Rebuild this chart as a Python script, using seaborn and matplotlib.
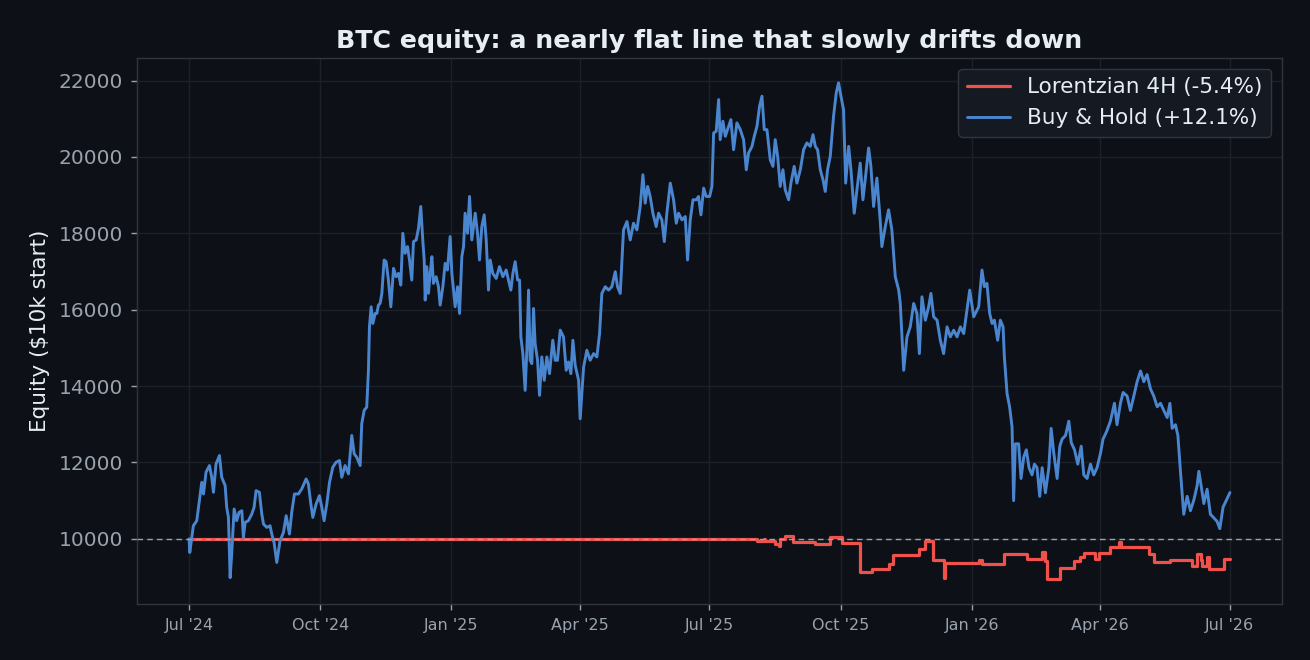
import numpy as np
import pandas as pd
import seaborn as sns
import matplotlib
matplotlib.use("Agg")
import matplotlib.pyplot as plt
import matplotlib.dates as mdates

# days since 2024-07-01 and equity in $
start = pd.Timestamp("2024-07-01")

bh_days = [
    0, 0.5, 3.0, 5.4, 7.2, 8.9, 10.1, 11.9, 14.3, 15.9, 17.1, 18.9, 21.3, 22.9, 25.3, 26.4, 27.6, 28.8,
    29.9, 31.6, 33.4, 35.1, 37.0, 38.1, 39.3, 41.6, 44.0, 45.6, 47.0, 49.3, 51.0, 52.2, 54.5, 56.8,
    58.0, 59.6, 61.5, 63.8, 66.2, 68.1, 70.4, 72.0, 73.9, 76.7, 79.0, 82.1, 83.7, 85.4, 86.8, 89.1,
    91.4, 93.1, 94.7, 96.6, 98.5, 100.8, 103.1, 105.5, 107.1, 109.4, 111.8, 114.1, 115.8, 117.6,
    120.0, 121.1, 122.8, 124.6, 125.8, 126.5, 127.7, 128.9, 130.5, 131.7, 132.8, 134.0, 135.2,
    136.8, 138.2, 139.8, 141.5, 143.4, 145.2, 146.9, 148.5, 149.9, 151.5, 153.2, 154.6, 156.2,
    157.4, 159.3, 160.9, 162.5, 163.9, 164.9, 165.6, 166.7, 167.9, 169.1, 170.3, 171.4, 173.3,
    174.9, 176.1, 178.0, 179.6, 181.2, 183.1, 184.3, 185.5, 186.6, 188.3, 189.7, 191.3, 192.5,
    193.6, 195.3, 196.7, 198.3, 200.7, 202.3, 203.7, 205.3, 207.0, 208.4, 210.0, 211.2, 213.0,
    215.4, 217.7, 220.1, 222.4, 224.0, 225.7, 227.1, 228.7, 230.4, 231.8, 232.7, 234.1, 235.7,
    236.9, 238.1, 239.2, 240.4, 241.6, 242.7, 244.4, 245.8, 247.4, 249.1, 250.9, 252.8, 255.1,
    256.8, 258.4, 260.3, 262.6, 264.5, 266.1, 267.8, 269.2, 270.8, 273.2, 274.3,
    276.7, 279.0, 281.3, 283.7, 286.0, 287.9, 289.5, 291.9, 294.2, 296.5, 298.9, 300.5, 302.4,
    304.7, 307.1, 309.4, 311.7, 314.1, 316.4, 318.3, 319.9, 321.6, 323.4, 325.3, 327.6, 329.3,
    331.6, 333.3, 335.1, 337.5, 339.8, 341.7, 343.3, 345.7, 348.0, 349.6, 351.5, 353.4, 355.7,
    357.3, 359.0, 360.9, 362.7, 365.1, 366.7, 367.9, 369.7, 371.4, 372.5, 374.4, 376.1, 378.4,
    380.0, 381.9, 384.2, 386.6, 388.9, 390.8, 392.4, 394.8, 396.4, 398.3, 400.1, 401.8, 403.4,
    405.3, 407.6, 409.5, 411.1, 412.8, 414.6, 416.5, 418.1, 420.5, 422.1, 424.4, 426.3, 428.7,
    431.0, 433.3, 435.7, 437.6, 439.2, 440.8, 442.7, 444.6, 446.2, 447.8, 449.7, 452.0, 453.9,
    455.5, 457.2, 459.0, 460.5, 462.6, 464.2, 466.5, 468.4, 470.7, 472.6, 474.2, 476.6, 478.2,
    480.1, 482.4, 484.7, 485.9, 488.3, 490.6, 492.9, 495.3, 497.7, 498.8, 501.2, 503.5, 505.8,
    508.2, 510.5, 512.2, 514.0, 516.4, 518.7, 520.3, 522.2, 524.6, 526.9, 529.2, 531.6, 533.9,
    536.3, 538.6, 541.0, 543.3, 545.6, 547.5, 550.3, 553.8, 556.1, 557.8, 559.6, 561.5, 563.2,
    564.8, 567.1, 569.0, 570.9, 571.8, 573.7, 575.5, 577.2, 578.3, 579.5, 581.8,
    583.5, 585.4, 587.2, 589.1, 591.2, 592.9, 594.7, 596.6, 598.3, 600.6, 603.0, 604.6, 606.5,
    608.8, 610.7, 612.3, 614.7, 617.0, 618.7, 621.0, 623.3, 625.7, 627.5, 629.8, 632.2, 634.5,
    636.8, 639.2, 641.0, 643.4, 646.2, 649.0, 650.8, 653.2, 655.1, 657.9, 660.2, 662.6, 664.9,
    667.3, 669.6, 671.9, 674.3, 676.6, 679.0, 681.3, 683.6, 686.0, 687.9, 689.5, 691.8, 693.5,
    695.3, 697.6, 700.0, 702.3, 704.7, 707.0, 708.2, 709.8, 711.7, 714.0, 716.3, 718.7, 721.0,
    722.9, 725.2, 727.6, 730.0,
]
bh_equity = [
    10000, 9641, 10341, 10473, 10998, 11479, 11173, 11742, 11917, 11611, 11217, 11961, 12179, 11611,
    11392, 10823, 10560, 8980,
    9597, 10779, 10473, 10692, 10735, 10035, 10429, 10473, 10648, 10823, 11260, 11217, 10648, 10385,
    10298, 10341, 10123, 9904, 9380, 9947, 10166, 10604, 10123, 10692, 11173, 11173, 11304, 11567,
    11435, 10910, 10560, 10910, 11129, 10823, 10473, 10910, 11479, 11873, 12004, 12048, 11611,
    11917, 11698, 12705, 12223, 12136, 11917, 13011, 13361, 13449, 14412, 15549, 16074, 15637,
    15900, 15900, 16118, 16162, 16425, 17300, 17256, 16775, 16074, 17081, 16862, 16950, 16643,
    18000, 17475, 17650, 17300, 16775, 17781, 17825, 18132, 18701, 17825, 17300, 16250, 17125,
    16425, 16950, 17387, 16687, 16862, 16600, 16118, 16600, 17212, 17037, 17913, 16950, 16512,
    16074, 16600, 15900, 17387, 17650, 18525, 18000, 18963, 17825, 18525, 18000, 17300, 18175,
    18482, 17825, 16512, 17300, 16950, 16818, 17125, 16862, 17037, 16775, 16512, 16950, 17256,
    16775, 16775, 15287, 14849, 13886, 14937, 16512, 14674, 14587, 16031, 15112, 14674, 13755,
    14762, 14149, 14762, 14324, 15199, 14674, 14674, 15462, 15287, 14412, 14630, 14324, 15199,
    14543, 14149, 13142,
    14499, 14937, 14674, 14849, 14762, 15374, 16425, 16600, 16512, 16600, 16994, 16600, 16425,
    18088, 18307, 17825, 18263, 18088, 18701, 19532, 18788, 19226, 18963, 18525, 18175, 18525,
    18350, 17781, 18525, 19313, 18876, 18263, 18525, 18350, 18438, 17300, 18350, 18876, 18876,
    18963, 18482, 19182, 18963, 18963, 19226, 20626, 20670, 21501, 20451, 20933, 20539, 20801,
    20976, 20188, 20889, 20714, 20451, 19663, 20101, 20276, 20539, 20801, 21326, 21589, 20714,
    20714, 19926, 19751, 20451, 20013, 19226, 19663, 19138, 18876, 19313, 19751, 19313, 19663,
    20188, 20364, 20276, 20582, 20276, 20188, 19663, 19401, 19094, 19663, 20013, 21064, 21677,
    21939, 21589, 21239, 19313, 20276, 19663, 18525, 19138, 19838, 18876, 19401, 20232, 19751,
    18701, 19445, 18350, 17650, 18175, 18613, 18088, 16862, 16512, 16162, 14412, 15287, 15549,
    16162, 15900, 14849, 16337, 15724, 16074, 16425, 15812, 15724, 15199, 14849, 15549, 15287,
    15462, 15287, 15549, 15374, 15987, 16512, 15812, 16074, 17037, 16600, 16687, 15900, 15637,
    15724, 15199, 15724, 15549, 14762, 13799, 13449, 12923, 10998, 12486, 12486,
    11579, 12142, 12329, 11861, 11673, 11954, 11861, 11111, 11861, 11205, 11861, 12891, 12235,
    11579, 12424, 12610, 12705, 13080, 12518, 12329, 11954, 12424, 11673, 11579, 11954, 11673,
    11861, 12235, 12610, 12799, 13080, 13548, 12986, 13548, 13831, 13737, 13361, 13737, 14112,
    14393, 14112, 14299, 13923, 13737, 13456, 13548, 13361, 13175, 13548, 12891, 12986, 12705,
    11767, 10641, 11111, 10735, 11016, 11392, 11767, 11392, 10922, 11297, 10641, 10548, 10454,
    10265, 10829, 11016, 11210,
]

# strategy equity only changes when a trade closes (step line)
lz_days = [
    0, 398.3, 403.0, 404.2, 411.2, 413.5, 414.7, 418.2, 423.5, 439.2, 449.3, 457.9, 470.8, 479.0,
    490.6, 493.7, 511.7, 516.4, 521.8, 529.3, 530.4, 553.8, 556.2, 571.3, 587.7, 598.5, 600.6,
    601.7, 611.1, 620.4, 625.1, 627.4, 635.6, 638.0, 646.2, 652.0, 653.7, 673.0, 676.6, 688.3,
    703.5, 707.0, 709.4, 710.5, 714.0, 715.2, 725.7, 730.0,
]
lz_equity = [
    10000, 9947, 10000, 9930, 9860, 9816, 10000, 10079, 9904, 9860, 10035, 9890, 9133, 9203,
    9335, 9571, 9729, 9930, 9440, 8985, 9361, 9440, 9335, 9597, 9466, 9659, 9422,
    8941, 9247, 9422, 9510, 9615, 9466, 9615, 9790, 9904, 9772, 9597, 9379, 9440,
    9291, 9597, 9440, 9291, 9510, 9221, 9466, 9460,
]

series_labels = ["Lorentzian 4H (-5.4%)", "Buy & Hold (+12.1%)"]
start_equity = 10000

bg = "#0d1017"
grid_c = "#1b2029"
spine_c = "#30363d"
tick_c = "#9aa3ad"
text_c = "#e6edf3"
red = "#f0514a"
blue = "#4a86cf"

sns.set_theme(style="dark")
plt.rcParams["font.family"] = ["DejaVu Sans"]

bh = pd.DataFrame({"date": start + pd.to_timedelta(bh_days, unit="D"), "equity": bh_equity})
lz = pd.DataFrame({"date": start + pd.to_timedelta(lz_days, unit="D"), "equity": lz_equity})

fig = plt.figure(figsize=(13.1, 6.6), dpi=100, facecolor=bg)
ax = fig.add_axes([0.1046, 0.0848, 0.874, 0.8273])
ax.set_facecolor(bg)

sns.lineplot(data=lz, x="date", y="equity", ax=ax, color=red, linewidth=2.3,
             drawstyle="steps-post", label=series_labels[0], estimator=None)
sns.lineplot(data=bh, x="date", y="equity", ax=ax, color=blue, linewidth=2.1,
             label=series_labels[1], estimator=None)
ax.axhline(start_equity, color="#9aa3ad", linestyle=(0, (4, 3)), linewidth=1.0, zorder=3)

ax.xaxis.set_major_locator(mdates.MonthLocator(bymonth=[1, 4, 7, 10]))
ax.xaxis.set_major_formatter(mdates.DateFormatter("%b '%y"))

ax.grid(True, color=grid_c, linewidth=1.0)
for s in ax.spines.values():
    s.set_color(spine_c)
    s.set_linewidth(1.0)
ax.tick_params(axis="x", colors=tick_c, labelsize=11.5, length=4, width=1, pad=6)
ax.tick_params(axis="y", colors=tick_c, labelsize=14.5, length=4, width=1, pad=6)
ax.tick_params(axis="both", color=tick_c, bottom=True, left=True)

ax.set_xlabel("")
ax.set_ylabel("Equity (\\$10k start)", color=text_c, fontsize=15.5, labelpad=6)
ax.set_title("BTC equity: a nearly flat line that slowly drifts down", color=text_c,
             fontsize=18.2, fontweight="bold", pad=7)

leg = ax.legend(loc="upper right", fontsize=15.5, facecolor="#151a22", edgecolor=spine_c,
                framealpha=1.0, labelcolor=text_c)
leg.get_frame().set_linewidth(1.0)

fig.savefig("out.png", dpi=100, facecolor=bg)
